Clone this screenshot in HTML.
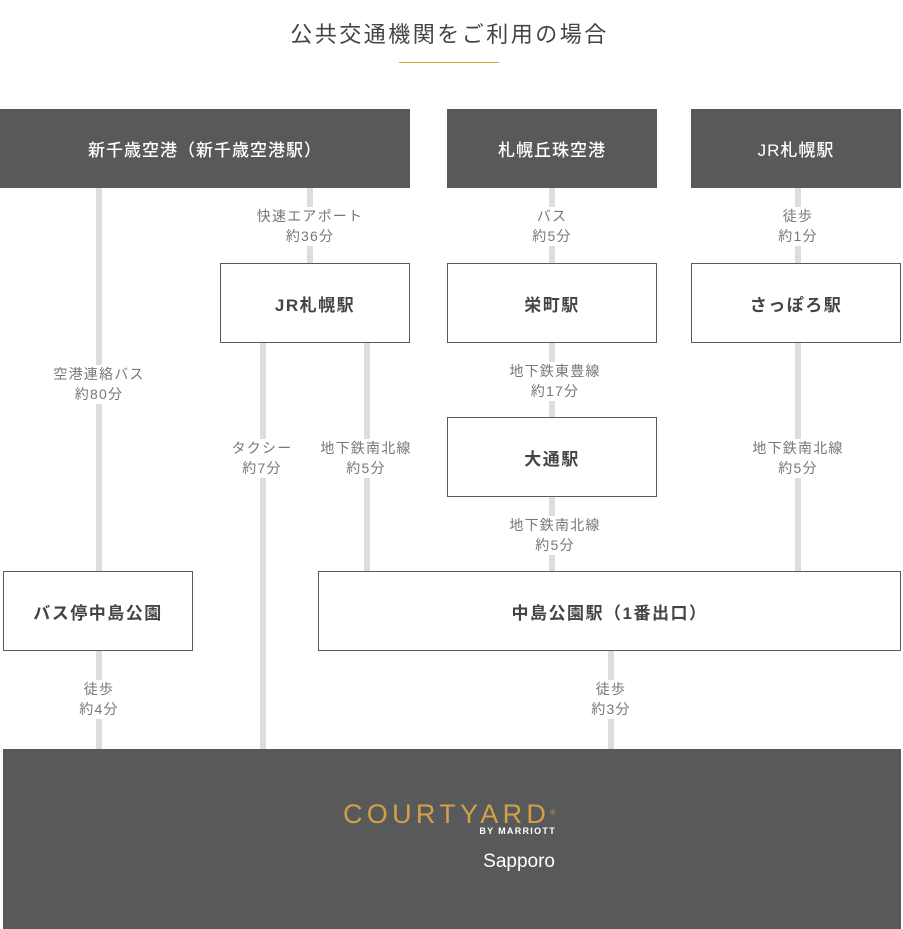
<!DOCTYPE html>
<html><head><meta charset="utf-8"><style>
body{margin:0;width:903px;height:929px;background:#fff;position:relative;overflow:hidden;font-family:"Liberation Sans","Noto Sans CJK JP",sans-serif}
.a{position:absolute}
.d{position:absolute;background:#58595b;color:#fff;display:flex;align-items:center;justify-content:center;font-size:17px;font-weight:500;letter-spacing:1px}
.w{position:absolute;background:#fff;border:1px solid #58595b;box-sizing:border-box;color:#444;display:flex;align-items:center;justify-content:center;font-size:17px;font-weight:bold;letter-spacing:1.5px}
.l{position:absolute;width:6px;background:#ddd}
.t{position:absolute;background:#fff;color:#777;font-size:14px;line-height:19.5px;text-align:center;white-space:nowrap;letter-spacing:1.2px;padding:0 2px;transform:translateX(-50%)}
</style></head><body>
<div class="a" style="left:0;width:899px;top:17px;text-align:center;font-size:22px;color:#444;letter-spacing:2.5px">公共交通機関をご利用の場合</div>
<div class="a" style="left:399px;width:100px;top:62px;height:1px;background:#d4a53a"></div>

<div class="l" style="left:96px;top:188px;height:561px"></div>
<div class="l" style="left:307px;top:188px;height:75px"></div>
<div class="l" style="left:260px;top:342px;height:407px"></div>
<div class="l" style="left:364px;top:342px;height:229px"></div>
<div class="l" style="left:549px;top:188px;height:383px"></div>
<div class="l" style="left:795px;top:188px;height:383px"></div>
<div class="l" style="left:608px;top:650px;height:99px"></div>

<div class="d" style="left:0;top:109px;width:410px;height:79px">新千歳空港（新千歳空港駅）</div>
<div class="d" style="left:447px;top:109px;width:210px;height:79px">札幌丘珠空港</div>
<div class="d" style="left:691px;top:109px;width:210px;height:79px">JR札幌駅</div>

<div class="w" style="left:220px;top:263px;width:190px;height:80px">JR札幌駅</div>
<div class="w" style="left:447px;top:263px;width:210px;height:80px">栄町駅</div>
<div class="w" style="left:691px;top:263px;width:210px;height:80px">さっぽろ駅</div>
<div class="w" style="left:447px;top:417px;width:210px;height:80px">大通駅</div>
<div class="w" style="left:3px;top:571px;width:190px;height:80px">バス停中島公園</div>
<div class="w" style="left:318px;top:571px;width:583px;height:80px">中島公園駅（1番出口）</div>

<div class="t" style="left:310px;top:207px">快速エアポート<br>約36分</div>
<div class="t" style="left:552px;top:207px">バス<br>約5分</div>
<div class="t" style="left:798px;top:207px">徒歩<br>約1分</div>
<div class="t" style="left:99px;top:365px">空港連絡バス<br>約80分</div>
<div class="t" style="left:262px;top:439px">タクシー<br>約7分</div>
<div class="t" style="left:366px;top:439px">地下鉄南北線<br>約5分</div>
<div class="t" style="left:555px;top:362px">地下鉄東豊線<br>約17分</div>
<div class="t" style="left:798px;top:439px">地下鉄南北線<br>約5分</div>
<div class="t" style="left:555px;top:516px">地下鉄南北線<br>約5分</div>
<div class="t" style="left:99px;top:680px">徒歩<br>約4分</div>
<div class="t" style="left:611px;top:680px">徒歩<br>約3分</div>

<div class="a" style="left:3px;top:749px;width:898px;height:180px;background:#58595b"></div>
<div class="a" style="left:343px;top:799px;width:225px;font-size:27px;line-height:30px;color:#d4a045;letter-spacing:4.3px;white-space:nowrap">COURTYARD<span style="font-size:7px;vertical-align:top;letter-spacing:0">®</span></div>
<div class="a" style="left:456px;top:826px;width:100px;text-align:right;font-size:9px;font-weight:bold;color:#fff;letter-spacing:1.3px">BY MARRIOTT</div>
<div class="a" style="left:455px;top:851px;width:100px;text-align:right;font-size:19px;color:#fff">Sapporo</div>
</body></html>
